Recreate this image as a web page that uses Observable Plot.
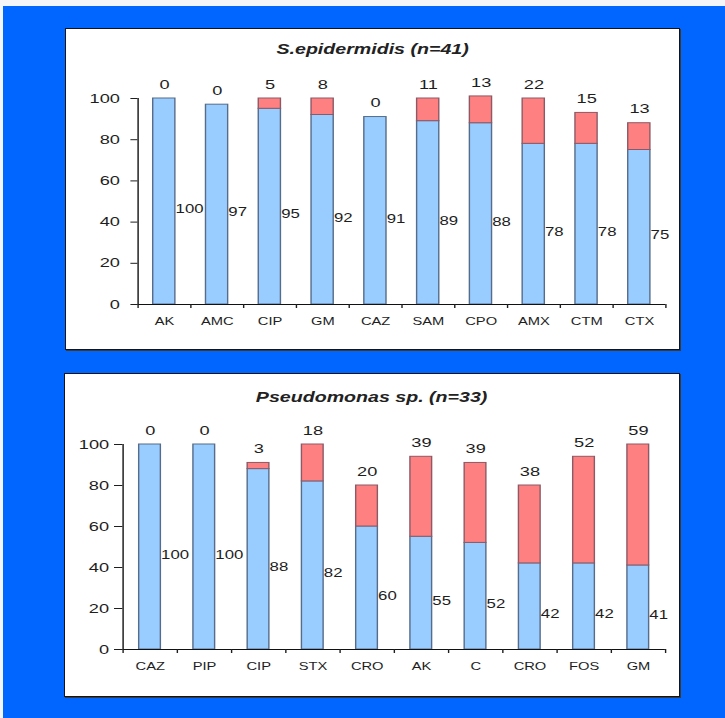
<!DOCTYPE html>
<html>
<head>
<meta charset="utf-8">
<script src="https://cdn.jsdelivr.net/npm/d3@7"></script>
<script src="https://cdn.jsdelivr.net/npm/@observablehq/plot@0.6"></script>
<style>
  html, body { margin: 0; padding: 0; width: 725px; height: 718px; overflow: hidden;
    background: #f3f5f9; font-family: "Liberation Sans", Arial, sans-serif; }
  #bg { position: absolute; left: 3px; top: 6px; width: 722px; height: 712px; background: #0066ff; }
  .panel { position: absolute; background: #fff; border: 1px solid #141414; box-shadow: 1px 1px 0 #3a3a3a; }
  /* slide artwork is widened horizontally; draw narrow, then stretch */
  .inner { position: absolute; left: 0; top: 0; width: 438px; height: 100%;
    transform: scaleX(1.4); transform-origin: 0 0; }
  .title { position: absolute; left: 0; width: 438px; text-align: center; font-weight: bold;
    font-style: italic; font-size: 14px; line-height: 16px; color: #222; }
  .inner svg { position: absolute; left: 0; overflow: visible; }
</style>
</head>
<body>
<div id="bg"></div>
<script>
// S. epidermidis (n=41): % sensitive and % resistant per antibiotic
const epiAntibiotics = ["AK", "AMC", "CIP", "GM", "CAZ", "SAM", "CPO", "AMX", "CTM", "CTX"];
const epiSensitive   = [100, 97, 95, 92, 91, 89, 88, 78, 78, 75];
const epiResistant   = [0, 0, 5, 8, 0, 11, 13, 22, 15, 13];

// Pseudomonas sp. (n=33)
const pseAntibiotics = ["CAZ", "PIP", "CIP", "STX", "CRO", "AK", "C", "CRO", "FOS", "GM"];
const pseSensitive   = [100, 100, 88, 82, 60, 55, 52, 42, 42, 41];
const pseResistant   = [0, 0, 3, 18, 20, 39, 39, 38, 52, 59];

const yTicks = [0, 20, 40, 60, 80, 100];

const FONT = '"Liberation Sans", Arial, sans-serif';

function drawPanel(cfg) {
  const panel = document.createElement("div");
  panel.className = "panel";
  Object.assign(panel.style, {
    left: cfg.box.left + "px", top: cfg.box.top + "px",
    width: cfg.box.width + "px", height: cfg.box.height + "px"
  });
  const inner = document.createElement("div");
  inner.className = "inner";
  const title = document.createElement("div");
  title.className = "title";
  title.style.top = cfg.titleTop + "px";
  title.textContent = cfg.title;
  inner.appendChild(title);

  const n = cfg.names.length;
  const rows = cfg.names.map((name, i) => ({ i, name, s: cfg.sensitive[i], r: cfg.resistant[i] }));
  const half = cfg.barFrac / 2;
  const svgHeight = cfg.box.height - cfg.svgTop;

  const chart = Plot.plot({
    width: 438,
    height: svgHeight,
    marginTop: cfg.marginTop,
    marginBottom: svgHeight - cfg.marginTop - cfg.plotHeight,
    marginLeft: cfg.marginLeft,
    marginRight: 438 - cfg.plotRight,
    x: { type: "linear", domain: [0, n], axis: null },
    y: { domain: [0, 100], axis: null },
    style: { fontFamily: FONT, color: "#1e1e1e", background: "transparent", overflow: "visible" },
    marks: [
      // sensitive share
      Plot.rect(rows, {
        x1: d => d.i + 0.5 - half, x2: d => d.i + 0.5 + half,
        y1: 0, y2: d => d.s,
        fill: "#99ccff", stroke: "#566c8a", strokeWidth: 1
      }),
      // resistant share stacked on top
      Plot.rect(rows.filter(d => d.r > 0), {
        x1: d => d.i + 0.5 - half, x2: d => d.i + 0.5 + half,
        y1: d => d.s, y2: d => d.s + d.r,
        fill: "#ff8080", stroke: "#8c5a66", strokeWidth: 1
      }),
      Plot.axisY({ ticks: yTicks, tickSize: cfg.tickSize, tickPadding: cfg.tickPadding,
        fontSize: 13, label: null, tickFormat: d => String(d) }),
      Plot.ruleX([0], { y1: 0, y2: 100, stroke: "#111" }),
      Plot.ruleY([0], { stroke: "#111" }),
      // tick marks between categories
      Plot.axisX({ ticks: d3.range(n + 1), tickSize: 4, tickFormat: () => "", label: null }),
      // category names
      Plot.axisX({ ticks: rows.map(d => d.i + 0.5), tickSize: 0, tickPadding: 13,
        tickFormat: v => cfg.names[Math.floor(v)], fontSize: 10.5, label: null }),
      // sensitive % beside each bar
      Plot.text(rows, {
        x: d => d.i + 0.5 + half, y: d => d.s / 2, text: d => String(d.s),
        textAnchor: "start", dy: 8, fontSize: 12, fill: "#1e1e1e"
      }),
      // resistant % above each bar
      Plot.text(rows, {
        x: d => d.i + 0.5, y: d => d.s + d.r, text: d => String(d.r),
        dy: -14, fontSize: 13, fill: "#1e1e1e"
      })
    ]
  });
  chart.style.top = cfg.svgTop + "px";
  inner.appendChild(chart);
  panel.appendChild(inner);
  document.body.appendChild(panel);
}

drawPanel({
  title: "S.epidermidis (n=41)",
  names: epiAntibiotics, sensitive: epiSensitive, resistant: epiResistant,
  box: { left: 65, top: 28, width: 613, height: 320 },
  titleTop: 12, svgTop: 34,
  marginTop: 35, plotHeight: 206,
  marginLeft: 51, plotRight: 428,
  barFrac: 0.42, tickSize: 5, tickPadding: 8
});

drawPanel({
  title: "Pseudomonas sp. (n=33)",
  names: pseAntibiotics, sensitive: pseSensitive, resistant: pseResistant,
  box: { left: 64, top: 373, width: 614, height: 322 },
  titleTop: 15, svgTop: 34,
  marginTop: 36, plotHeight: 205,
  marginLeft: 41, plotRight: 428.5,
  barFrac: 0.40, tickSize: 6, tickPadding: 4
});
</script>
</body>
</html>
